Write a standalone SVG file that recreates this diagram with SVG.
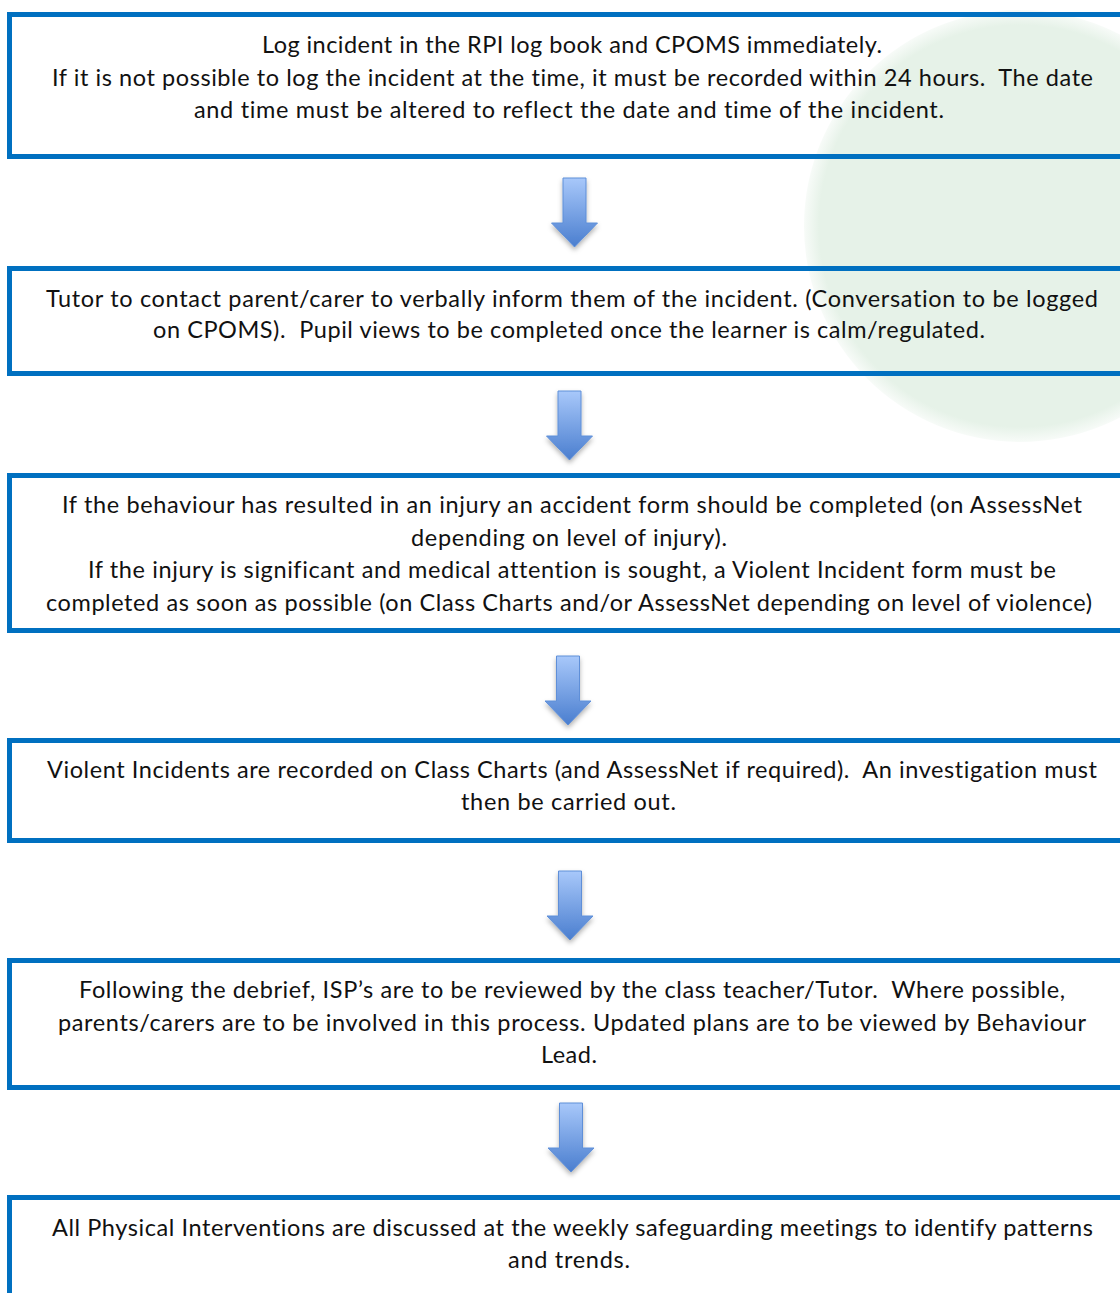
<svg xmlns="http://www.w3.org/2000/svg" width="1120" height="1293" viewBox="0 0 1120 1293">
<style>
.box{fill:none;stroke:#0070C0;stroke-width:5}
.t{font-family:Lato,"Liberation Sans",sans-serif;font-size:23.5px;fill:#111;text-anchor:middle;white-space:pre;font-variant-ligatures:none}
.arrow{fill:url(#ag);stroke:#5f8fd8;stroke-width:1;filter:url(#sh)}
</style>
<defs>
<linearGradient id="ag" x1="0" y1="0" x2="0" y2="1">
<stop offset="0" stop-color="#a8c8fa"/>
<stop offset="1" stop-color="#4a7ecf"/>
</linearGradient>
<radialGradient id="gg" cx="0.5" cy="0.5" r="0.5">
<stop offset="0.93" stop-color="#e6f2e8"/>
<stop offset="1" stop-color="#e6f2e8" stop-opacity="0.3"/>
</radialGradient>
<filter id="sh" x="-50%" y="-20%" width="200%" height="150%">
<feDropShadow dx="0" dy="3" stdDeviation="2.5" flood-color="#000" flood-opacity="0.3"/>
</filter>
<path id="arr" d="M-11.5,0 H11.5 V45 H23 L0,69 L-23,45 H-11.5 Z"/>
</defs>
<rect width="1120" height="1293" fill="#fff"/>
<circle cx="1020" cy="226" r="216" fill="url(#gg)"/>

<g id="connectors">
<use href="#arr" class="arrow" transform="translate(574.5,178)"/>
<use href="#arr" class="arrow" transform="translate(569.5,391)"/>
<use href="#arr" class="arrow" transform="translate(568,656)"/>
<use href="#arr" class="arrow" transform="translate(570,871)"/>
<use href="#arr" class="arrow" transform="translate(571,1103)"/>
</g>

<g id="node1">
<rect class="box" x="9.5" y="14.5" width="1120" height="142"/>
<text class="t" x="572" y="53" textLength="620">Log incident in the RPI log book and CPOMS immediately.</text>
<text class="t" x="572.5" y="86" textLength="1041">If it is not possible to log the incident at the time, it must be recorded within 24 hours.  The date</text>
<text class="t" x="569" y="118" textLength="750">and time must be altered to reflect the date and time of the incident.</text>
</g>

<g id="node2">
<rect class="box" x="9.5" y="268.5" width="1120" height="105"/>
<text class="t" x="572" y="307" textLength="1052">Tutor to contact parent/carer to verbally inform them of the incident. (Conversation to be logged</text>
<text class="t" x="569" y="338" textLength="832">on CPOMS).  Pupil views to be completed once the learner is calm/regulated.</text>
</g>

<g id="node3">
<rect class="box" x="9.5" y="475.5" width="1120" height="155"/>
<text class="t" x="572" y="513" textLength="1020">If the behaviour has resulted in an injury an accident form should be completed (on AssessNet</text>
<text class="t" x="569" y="546" textLength="316">depending on level of injury).</text>
<text class="t" x="572" y="578" textLength="968">If the injury is significant and medical attention is sought, a Violent Incident form must be</text>
<text class="t" x="569" y="611" textLength="1046">completed as soon as possible (on Class Charts and/or AssessNet depending on level of violence)</text>
</g>

<g id="node4">
<rect class="box" x="9.5" y="740.5" width="1120" height="100"/>
<text class="t" x="572" y="778" textLength="1050">Violent Incidents are recorded on Class Charts (and AssessNet if required).  An investigation must</text>
<text class="t" x="568.5" y="810" textLength="215">then be carried out.</text>
</g>

<g id="node5">
<rect class="box" x="9.5" y="960.5" width="1120" height="127"/>
<text class="t" x="572" y="998" textLength="986">Following the debrief, ISP’s are to be reviewed by the class teacher/Tutor.  Where possible,</text>
<text class="t" x="572" y="1031" textLength="1028">parents/carers are to be involved in this process. Updated plans are to be viewed by Behaviour</text>
<text class="t" x="569" y="1063" textLength="56">Lead.</text>
</g>

<g id="node6">
<rect class="box" x="9.5" y="1197.5" width="1120" height="200"/>
<text class="t" x="572.5" y="1236" textLength="1041">All Physical Interventions are discussed at the weekly safeguarding meetings to identify patterns</text>
<text class="t" x="569" y="1268" textLength="122">and trends.</text>
</g>
</svg>
